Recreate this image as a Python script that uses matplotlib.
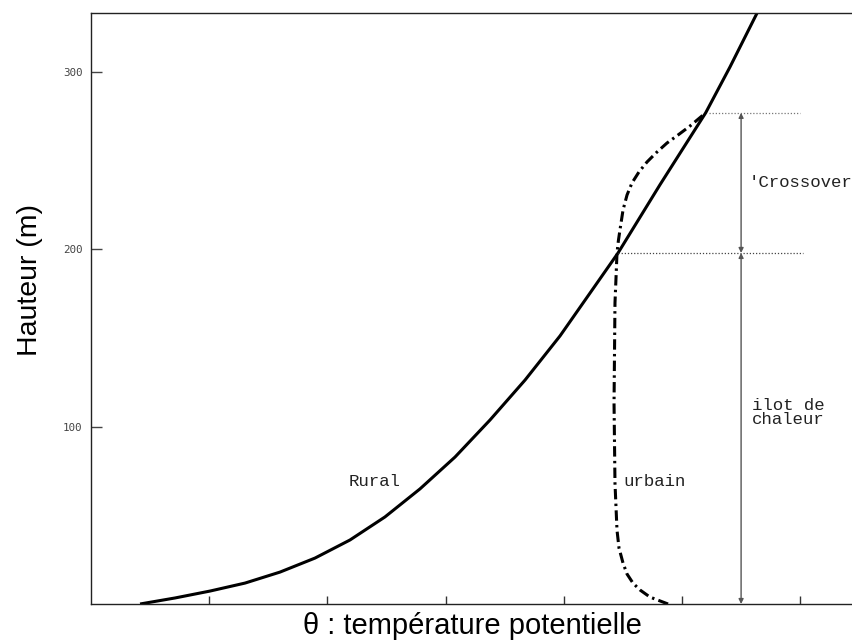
import matplotlib
matplotlib.use("Agg")
import matplotlib.pyplot as plt

# ---- data ----
rural_theta = [0.415, 0.711, 1.007, 1.303, 1.599, 1.895, 2.191, 2.487, 2.783, 3.080,
               3.376, 3.672, 3.968, 4.264, 4.459, 4.814, 5.200, 5.406, 5.635]
rural_h     = [0,     3.4,   7.3,   11.8,  18.0,  25.9,  36.1,  49.1,  64.9,  82.9,
               103.8, 126.3, 151.2, 179.4, 198.0, 236.5, 277.0, 302.9, 333.3]

urban_theta = [4.882, 4.729, 4.645, 4.585, 4.535, 4.501, 4.467, 4.450, 4.433, 4.425,
               4.433, 4.442, 4.450, 4.462, 4.475, 4.501, 4.535, 4.577, 4.636, 4.704,
               4.780, 4.873, 4.966, 5.068, 5.200]
urban_h     = [0,     3.9,   7.9,   11.8,  16.9,  23.1,  31.6,  41.7,  68.2,  113.4,
               169.8, 184.4, 198.0, 205.0, 210.9, 222.2, 230.7, 237.5, 243.7, 249.3,
               254.4, 260.0, 264.5, 269.6, 277.0]

crossover_h = 198      # height where the curves cross
top_h = 277            # height where they rejoin
arrow_theta = 5.50
dot_low_x = [4.46, 6.02]
dot_high_x = [5.23, 6.00]

x_ticks = [1, 2, 3, 4, 5, 6]
y_ticks = [100, 200, 300]
y_ticklabels = ["100", "200", "300"]

xlabel = "θ : température potentielle"
ylabel = "Hauteur (m)"

# ---- figure ----
fig = plt.figure(figsize=(8.53, 6.43), dpi=100)
ax = fig.add_axes([91/853, 39/643, 1 - 91/853, 591/643])
ax.set_xlim(0, 762/118.2)
ax.set_ylim(0, 591/1.773)

ax.plot(rural_theta, rural_h, color="black", lw=2.2, solid_capstyle="butt",
        solid_joinstyle="round")
ax.plot(urban_theta, urban_h, color="black", lw=2.2,
        dashes=(3.4, 1.4, 0.8, 1.4), dash_capstyle="butt", dash_joinstyle="round")

# dotted reference lines
ax.plot(dot_low_x, [crossover_h, crossover_h], color="#444444", lw=0.9, ls=(0, (1, 1.5)))
ax.plot(dot_high_x, [top_h, top_h], color="#777777", lw=0.9, ls=(0, (1, 1.5)))

# double arrows
ap = dict(arrowstyle="<|-|>", color="#555555", lw=1.0, mutation_scale=7, shrinkA=0, shrinkB=0)
ax.annotate("", xy=(arrow_theta, 0), xytext=(arrow_theta, crossover_h), arrowprops=ap)
ax.annotate("", xy=(arrow_theta, crossover_h), xytext=(arrow_theta, top_h), arrowprops=ap)

mono = dict(family="Liberation Mono", fontsize=12.5, color="#222222")
ax.text(2.18, 69, "Rural", ha="left", va="center", **mono)
ax.text(4.50, 69, "urbain", ha="left", va="center", **mono)
ax.text(5.56, 237.5, "'Crossover", ha="left", va="center", clip_on=False, **mono)
ax.text(5.59, 108, "ilot de\nchaleur", ha="left", va="center", linespacing=0.95, **mono)

# axes styling
for s in ["left", "bottom", "top"]:
    ax.spines[s].set_color("#222222")
    ax.spines[s].set_linewidth(1.0)
ax.spines["right"].set_visible(False)

ax.set_xticks(x_ticks)
ax.set_xticklabels([])
ax.tick_params(axis="x", direction="in", length=6, width=1, color="#333333", bottom=True, top=False)
ax.set_yticks(y_ticks)
ax.set_yticklabels(y_ticklabels, family="DejaVu Sans Mono", fontsize=7.8, color="#444444")
ax.tick_params(axis="y", direction="in", length=8, width=1, color="#444444", pad=6)

ax.set_xlabel(xlabel, family="Liberation Sans", fontsize=21, labelpad=2)
ax.set_ylabel(ylabel, family="Liberation Sans", fontsize=20.5, va="center")
ax.yaxis.set_label_coords((30 - 91) / 762, (604 - 280) / 591)

fig.savefig("out.png", dpi=100)
